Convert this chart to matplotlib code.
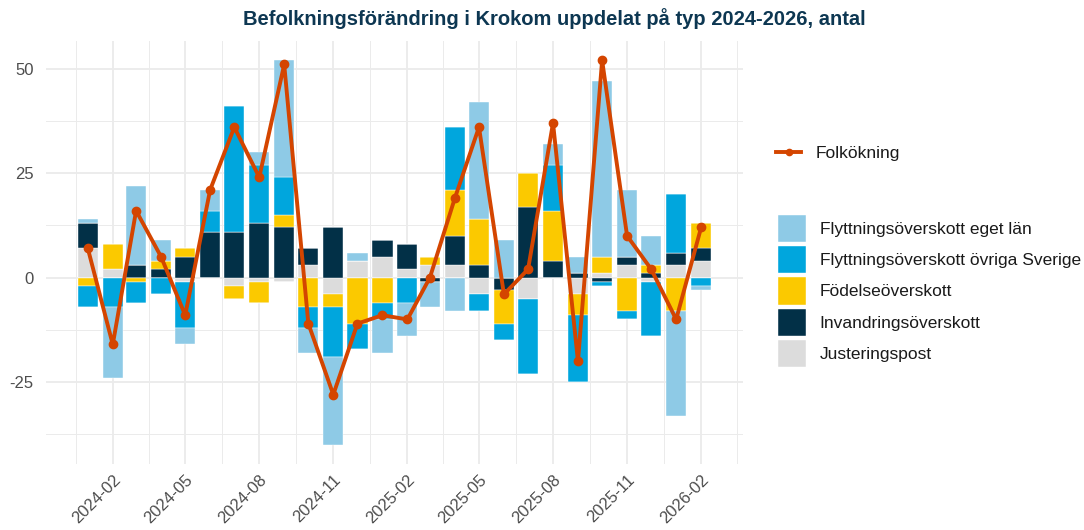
import numpy as np
import pandas as pd
import matplotlib
matplotlib.use("Agg")
import matplotlib.pyplot as plt
import matplotlib.dates as mdates
from matplotlib.lines import Line2D
from matplotlib.patches import Patch

plt.rcParams['font.family'] = ['Liberation Sans', 'DejaVu Sans']
plt.rcParams['axes.unicode_minus'] = False

# data, one value per month 2024-01 .. 2026-02
months = pd.date_range('2024-01-01', '2026-02-01', freq='MS')

eget_lan = [1, -17, 19, 5, -4, 5, 0, 3, 28, -6, -21, 2, -8, -8, -6, -8, 28, 9, 0, 5, 4, 42, 16, 7, -25, -1]
ovriga_sverige = [-5, -7, -5, -4, -11, 5, 30, 14, 9, -5, -12, -6, -4, -6, 0, 15, -4, -4, -18, 11, -16, -1, -2, -13, 14, -2]
fodelse = [-2, 6, -1, 2, 2, 0, -3, -5, 3, -7, -3, -11, -6, 0, 2, 11, 11, -8, 8, 12, -5, 4, -8, 2, -8, 6]
invandring = [6, 0, 3, 2, 5, 11, 11, 13, 12, 4, 12, 0, 4, 6, -1, 7, 3, -3, 17, 4, 1, -1, 2, 1, 3, 3]
justering = [7, 2, 0, 0, -1, 0, -2, -1, -1, 3, -4, 4, 5, 2, 3, 3, -4, 0, -5, 0, -4, 1, 3, -1, 3, 4]
folkokning = [7, -16, 16, 5, -9, 21, 36, 24, 51, -11, -28, -11, -9, -10, 0, 19, 36, -4, 2, 37, -20, 52, 10, 2, -10, 12]

labels = ["Flyttningsöverskott eget län", "Flyttningsöverskott övriga Sverige",
          "Födelseöverskott", "Invandringsöverskott", "Justeringspost"]
colors = ["#8ECAE6", "#00A6DD", "#FBC900", "#023047", "#DCDCDC"]
series = [eget_lan, ovriga_sverige, fodelse, invandring, justering]

fig = plt.figure(figsize=(10.84, 5.30), dpi=100)
ax = fig.add_axes([0.0424, 0.1245, 0.643, 0.798])

# stack outward from zero: Justeringspost nearest, eget län farthest
pos_base = np.zeros(len(months))
neg_base = np.zeros(len(months))
for vals, col in zip(series[::-1], colors[::-1]):
    v = np.array(vals, dtype=float)
    p = np.where(v > 0, v, 0)
    n = np.where(v < 0, v, 0)
    ax.bar(months, p, bottom=pos_base, width=25.2, color=col, edgecolor='white', linewidth=0.3, zorder=2)
    ax.bar(months, n, bottom=neg_base, width=25.2, color=col, edgecolor='white', linewidth=0.3, zorder=2)
    pos_base += p
    neg_base += n

line_col = "#D44500"
ax.plot(months, folkokning, color=line_col, lw=2.8, marker='o', ms=6, zorder=3)

ax.set_xlim(months[0] - pd.Timedelta(days=52), months[-1] + pd.Timedelta(days=52))
ax.set_ylim(-44.6, 56.6)

major = pd.date_range('2024-02-01', '2026-02-01', freq='3MS')
edges = pd.date_range('2023-11-01', '2026-05-01', freq='3MS')
minor = [edges[i] + (edges[i + 1] - edges[i]) / 2 for i in range(len(edges) - 1)]
ax.set_xticks(major)
ax.set_xticks(minor, minor=True)
ax.xaxis.set_major_formatter(mdates.DateFormatter('%Y-%m'))
ax.set_yticks([-25, 0, 25, 50])
ax.set_yticks([-37.5, -12.5, 12.5, 37.5], minor=True)

ax.grid(which='major', color='#EBEBEB', lw=1.3, zorder=0)
ax.grid(which='minor', color='#EBEBEB', lw=0.7, zorder=0)
ax.set_axisbelow(True)
for s in ax.spines.values():
    s.set_visible(False)
ax.tick_params(which='both', length=0, labelsize=12, labelcolor='#4D4D4D')
ax.tick_params(axis='y', pad=9)
ax.tick_params(axis='x', pad=6)
for lab in ax.get_xticklabels():
    lab.set_rotation(45)
    lab.set_ha('right')
    lab.set_va('top')
    lab.set_rotation_mode('anchor')

fig.text(0.511, 0.966, "Befolkningsförändring i Krokom uppdelat på typ 2024-2026, antal",
         ha='center', va='center', fontsize=14.5, fontweight='bold', color='#0D3752')

leg1 = fig.legend([Line2D([], [], color=line_col, lw=2.8, marker='o', ms=4.5)], ["Folkökning"],
                  loc='center left', bbox_to_anchor=(0.716, 1 - 153 / 530), frameon=False,
                  fontsize=12.5, handlelength=1.45, handletextpad=0.8, borderpad=0, borderaxespad=0)
for t in leg1.get_texts():
    t.set_color('#1A1A1A')

handles = [Patch(facecolor=c, edgecolor='white', linewidth=0.3) for c in colors]
leg2 = fig.legend(handles, labels, loc='center left', bbox_to_anchor=(0.7177, 1 - 291 / 530),
                  frameon=False, fontsize=12.5, handlelength=1.6, handleheight=2.05,
                  labelspacing=0.23, handletextpad=0.8, borderpad=0, borderaxespad=0)
for t in leg2.get_texts():
    t.set_color('#1A1A1A')

fig.savefig("out.png", dpi=100)
